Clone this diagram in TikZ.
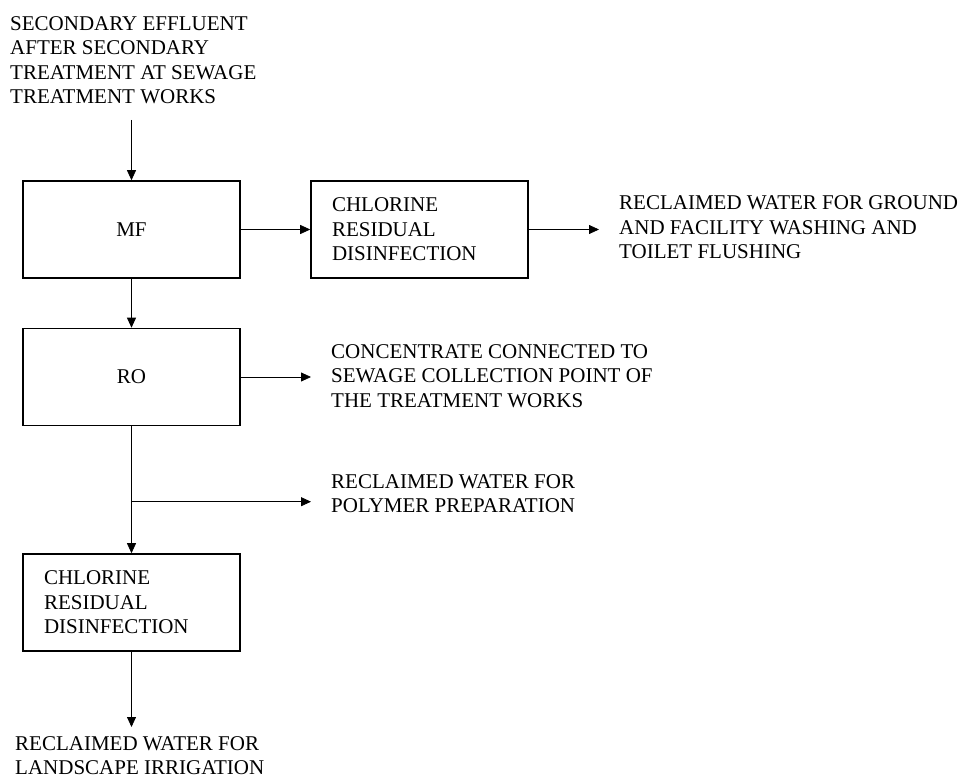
\documentclass[tikz,border=0pt]{standalone}
\usepackage{fontspec}
\setmainfont{Liberation Serif}
\usetikzlibrary{arrows.meta}
\tikzset{
    flow-box/.style = {draw, line width=1.6pt, rectangle, minimum width=217pt, minimum height=97pt, inner sep=0pt},
    flow-box-left/.style = {flow-box, text width=175pt, inner xsep=21pt, align=left},
    flow-label/.style = {anchor=base west, align=left, inner sep=0pt},
    flow-arrow/.style = {line width=0.8pt, -{Triangle[length=10pt, width=9pt]}},
}

\begin{document}
\begin{tikzpicture}[x=1pt, y=-1pt, font={\fontsize{21pt}{24.5pt}\selectfont}]
\useasboundingbox (0,0) rectangle (965,778);
\node[flow-label] (effluent) at (10,104) {SECONDARY EFFLUENT\\AFTER SECONDARY\\TREATMENT AT SEWAGE\\TREATMENT WORKS};
\node[flow-box] (mf) at (131.5,229.5) {MF};
\node[flow-box-left] (chlorine-mf) at (419.5,229.5) {CHLORINE\\RESIDUAL\\DISINFECTION};
\node[flow-box] (ro) at (131.5,377) {RO};
\node[flow-box-left] (chlorine-ro) at (131.5,602.5) {CHLORINE\\RESIDUAL\\DISINFECTION};

\node[flow-label] (washing) at (619,258.5) {RECLAIMED WATER FOR GROUND\\AND FACILITY WASHING AND\\TOILET FLUSHING};
\node[flow-label] (concentrate) at (331,407) {CONCENTRATE CONNECTED TO\\SEWAGE COLLECTION POINT OF\\THE TREATMENT WORKS};
\node[flow-label] (polymer) at (331,512.5) {RECLAIMED WATER FOR\\POLYMER PREPARATION};
\node[flow-label] (landscape) at (15,774.5) {RECLAIMED WATER FOR\\LANDSCAPE IRRIGATION};

% free ends of the connectors
\coordinate (effluent-out) at (131.5,120);
\coordinate (washing-in) at (599,229.5);
\coordinate (concentrate-in) at (311,377);
\coordinate (branch) at (131.5,501.7);
\coordinate (polymer-in) at (311,501.7);
\coordinate (landscape-in) at (131.5,727);

\draw[flow-arrow] (effluent-out) -- (mf);
\draw[flow-arrow] (mf) -- (chlorine-mf);
\draw[flow-arrow] (chlorine-mf) -- (washing-in);
\draw[flow-arrow] (mf) -- (ro);
\draw[flow-arrow] (ro) -- (concentrate-in);
\draw[flow-arrow] (ro) -- (chlorine-ro);
\draw[flow-arrow] (branch) -- (polymer-in);
\draw[flow-arrow] (chlorine-ro) -- (landscape-in);
\end{tikzpicture}
\end{document}
